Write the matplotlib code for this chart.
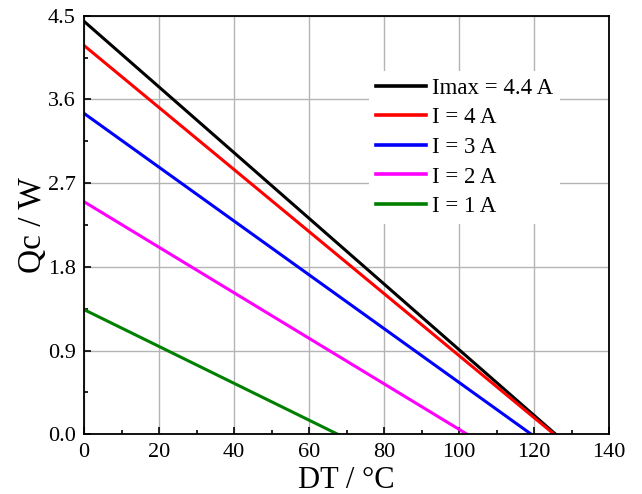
import numpy as np
import matplotlib.pyplot as plt
from matplotlib.ticker import MultipleLocator

plt.rcParams['font.family'] = ['Liberation Serif', 'DejaVu Serif']

# endpoints of each cooling-capacity line (DT in degC, Qc in W)
labels = ['Imax = 4.4 A', 'I = 4 A', 'I = 3 A', 'I = 2 A', 'I = 1 A']
colors = ['black', 'red', 'blue', 'magenta', 'green']
dt_start = [0, 0, 0, 0, 0]
dt_end = [125.7, 125.3, 119.2, 102.1, 67.6]
qc_start = [4.44, 4.18, 3.45, 2.50, 1.34]
qc_end = [0.0, 0.0, 0.0, 0.0, 0.0]

fig = plt.figure(figsize=(6.42, 4.94), dpi=100)
ax = fig.add_axes([0.131, 0.121, 0.818, 0.847])

for lab, c, x0, x1, y0, y1 in zip(labels, colors, dt_start, dt_end, qc_start, qc_end):
    ax.plot([x0, x1], [y0, y1], color=c, lw=2.2, label=lab)

ax.set_xlim(0, 140)
ax.set_ylim(0, 4.5)
ax.xaxis.set_major_locator(MultipleLocator(20))
ax.xaxis.set_minor_locator(MultipleLocator(10))
ax.yaxis.set_major_locator(MultipleLocator(0.9))
ax.yaxis.set_minor_locator(MultipleLocator(0.45))
ax.yaxis.set_major_formatter(plt.FormatStrFormatter('%.1f'))
ax.grid(True, which='major', color='#b4b4b4', lw=1.0)
ax.set_axisbelow(True)
ax.tick_params(which='both', direction='in', labelsize=16, width=1.2, pad=6)
ax.tick_params(which='major', length=5)
ax.tick_params(which='minor', length=3)
for s in ax.spines.values():
    s.set_linewidth(1.3)

ax.set_xlabel('DT / °C', fontsize=22, labelpad=3)
ax.set_ylabel('Qc / W', fontsize=24, labelpad=0)

leg = ax.legend(loc='upper right', bbox_to_anchor=(0.906, 0.868), fontsize=16.5,
                frameon=True, edgecolor='none', framealpha=1.0, fancybox=False,
                handlelength=2.2, handletextpad=0.25, labelspacing=0.37,
                borderpad=0.3, borderaxespad=0)
for line in leg.get_lines():
    line.set_linewidth(2.6)

fig.savefig('out.png', dpi=100)
